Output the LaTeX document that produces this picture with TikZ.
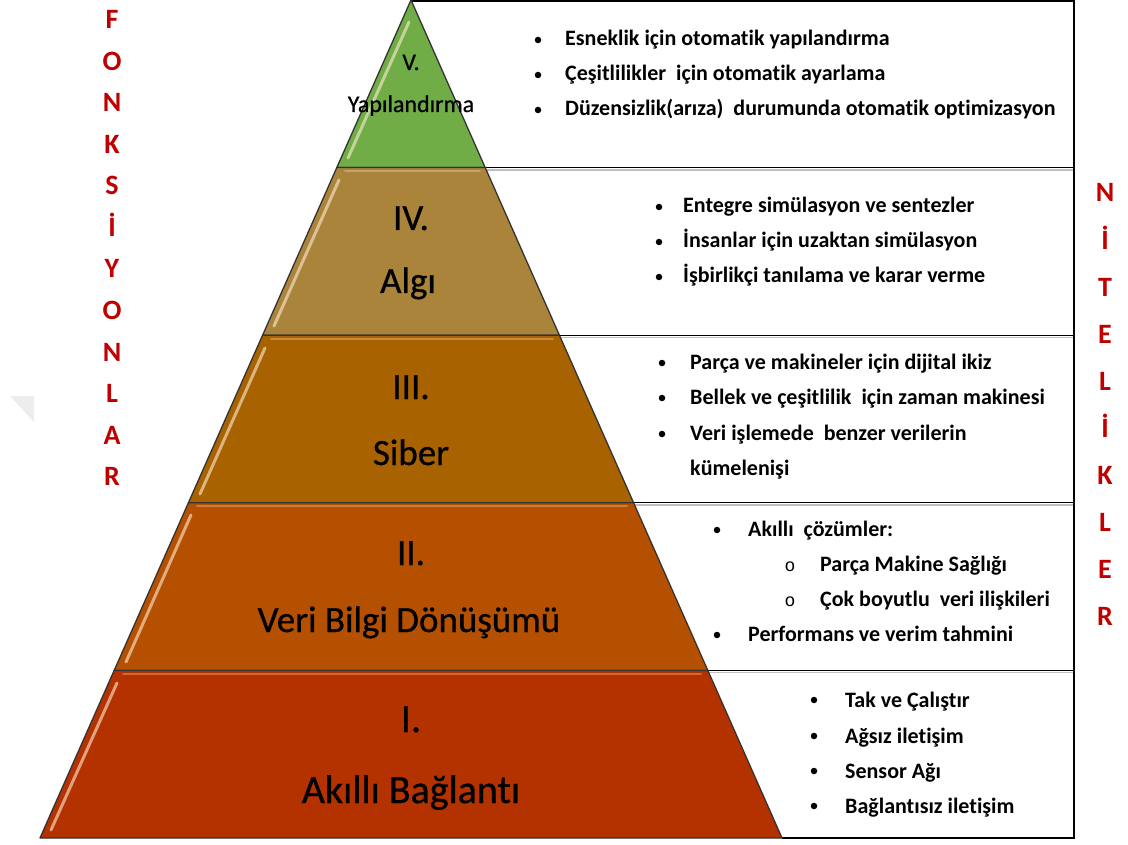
\documentclass[tikz,border=0pt]{standalone}
\usepackage{fontspec}
\setmainfont{Carlito}[Ligatures=NoCommon]
\newfontfamily\lblfont{Carlito}[Ligatures=NoCommon, FakeBold=0.7]
\newfontfamily\circfont{Liberation Mono}
\definecolor{tierV}{RGB}{112,173,71}
\definecolor{tierIV}{RGB}{170,132,58}
\definecolor{tierIII}{RGB}{168,98,0}
\definecolor{tierII}{RGB}{180,80,0}
\definecolor{tierI}{RGB}{180,50,0}
\definecolor{sidered}{RGB}{192,0,0}
\definecolor{glow}{RGB}{255,235,210}
\begin{document}
\begin{tikzpicture}[x=1pt,y=-1pt,
  tierlbl/.style={font=\lblfont\fontsize{37}{39}\selectfont, anchor=base, text=black, inner sep=0},
  biglbl/.style={font=\lblfont\fontsize{40}{42}\selectfont, anchor=base, text=black, inner sep=0},
  toplbl/.style={font=\lblfont\fontsize{24}{26}\selectfont, anchor=base, text=black, inner sep=0},
  itemtxt/.style={font=\bfseries\fontsize{22}{24}\selectfont, anchor=base west, inner sep=0},
  bul/.style={circle, fill=black, minimum size=6.5pt, inner sep=0},
  subbul/.style={font=\circfont\fontsize{18}{20}\selectfont, anchor=base, inner sep=0},
  sidelbl/.style={font=\bfseries\fontsize{28}{30}\selectfont, text=sidered, anchor=base, inner sep=0},
  tierline/.style={draw=black!80, line width=1.3pt, line join=round},
  boxline/.style={draw=black, line width=1.2pt},
  boxshadow/.style={draw=black!25, line width=1.2pt},
  hilite/.style={draw=glow, line width=3pt, opacity=0.6, line cap=round},
  tophilite/.style={draw=glow, line width=2pt, opacity=0.3, line cap=round}
]
\useasboundingbox (0,0) rectangle (1128,845);
\fill[white] (0,0) rectangle (1128,845);

% faint grey artefact at left
\fill[black!7] (10,396) -- (34,396) -- (34,422) -- cycle;

% boxes on the right
\draw[boxshadow] (487,170) -- (1074,170);
\draw[boxshadow] (561,337.5) -- (1074,337.5);
\draw[boxshadow] (635,505) -- (1074,505);
\draw[boxshadow] (709,672.5) -- (1074,672.5);
\draw[boxline] (411,1) -- (1074,1) -- (1074,838) -- (782,838);
\draw[boxline] (485.2,167.6) -- (1074,167.6);
\draw[boxline] (559.4,335.2) -- (1074,335.2);
\draw[boxline] (633.6,502.8) -- (1074,502.8);
\draw[boxline] (707.8,670.4) -- (1074,670.4);

% pyramid tiers
\path[tierline, fill=tierV] (411,0) -- (485.2,167.6) -- (336.8,167.6) -- cycle;
\path[tierline, fill=tierIV] (336.8,167.6) -- (485.2,167.6) -- (559.4,335.2) -- (262.6,335.2) -- cycle;
\path[tierline, fill=tierIII] (262.6,335.2) -- (559.4,335.2) -- (633.6,502.8) -- (188.4,502.8) -- cycle;
\path[tierline, fill=tierII] (188.4,502.8) -- (633.6,502.8) -- (707.8,670.4) -- (114.2,670.4) -- cycle;
\path[tierline, fill=tierI] (114.2,670.4) -- (707.8,670.4) -- (782,838) -- (40,838) -- cycle;

% bevel highlights
\draw[hilite] (409,22) -- (348,158);
\draw[hilite] (339,180) -- (274,326);
\draw[hilite] (265,348) -- (200,494);
\draw[hilite] (191,515) -- (126,662);
\draw[hilite] (117,683) -- (51,830);
\draw[tophilite] (345,171) -- (480,171);
\draw[tophilite] (271,338.6) -- (553,338.6);
\draw[tophilite] (197,506.2) -- (627,506.2);
\draw[tophilite] (123,673.8) -- (701,673.8);

% tier labels
\node[toplbl] (l5a) at (411,70) {V.};
\node[toplbl] (l5b) at (411,112) {Yapılandırma};
\node[tierlbl] (l4a) at (411,230) {IV.};
\node[tierlbl] (l4b) at (408,293) {Algı};
\node[tierlbl] (l3a) at (411,399) {III.};
\node[tierlbl] (l3b) at (411,465) {Siber};
\node[tierlbl] (l2a) at (411,565) {II.};
\node[tierlbl] (l2b) at (409,632) {Veri Bilgi Dönüşümü};
\node[biglbl] (l1a) at (411,732) {I.};
\node[biglbl] (l1b) at (411,803) {Akıllı Bağlantı};

% box V
\node[bul] (b51) at (538,40) {};
\node[itemtxt] (t51) at (565,46) {Esneklik için otomatik yapılandırma};
\node[bul] (b52) at (538,75) {};
\node[itemtxt] (t52) at (565,81) {Çeşitlilikler\ \ için otomatik ayarlama};
\node[bul] (b53) at (538,110) {};
\node[itemtxt] (t53) at (565,116) {Düzensizlik(arıza)\ \ durumunda otomatik optimizasyon};

% box IV
\node[bul] (b41) at (659,207) {};
\node[itemtxt] (t41) at (683,213) {Entegre simülasyon ve sentezler};
\node[bul] (b42) at (659,242) {};
\node[itemtxt] (t42) at (683,248) {İnsanlar için uzaktan simülasyon};
\node[bul] (b43) at (659,277) {};
\node[itemtxt] (t43) at (683,283) {İşbirlikçi tanılama ve karar verme};

% box III
\node[bul] (b31) at (662,363) {};
\node[itemtxt] (t31) at (690,369) {Parça ve makineler için dijital ikiz};
\node[bul] (b32) at (662,398) {};
\node[itemtxt] (t32) at (690,404) {Bellek ve çeşitlilik\ \ için zaman makinesi};
\node[bul] (b33) at (662,434) {};
\node[itemtxt] (t33) at (690,440) {Veri işlemede\ \ benzer verilerin};
\node[itemtxt] (t34) at (690,475) {kümelenişi};

% box II
\node[bul] (b21) at (717,530) {};
\node[itemtxt] (t21) at (748,536) {Akıllı\ \ çözümler:};
\node[subbul] (s21) at (790,571) {o};
\node[itemtxt] (t22) at (820,571) {Parça Makine Sağlığı};
\node[subbul] (s22) at (790,606) {o};
\node[itemtxt] (t23) at (820,606) {Çok boyutlu\ \ veri ilişkileri};
\node[bul] (b22) at (717,635) {};
\node[itemtxt] (t24) at (748,641) {Performans ve verim tahmini};

% box I
\node[bul] (b11) at (814,700) {};
\node[itemtxt] (t11) at (845,707) {Tak ve Çalıştır};
\node[bul] (b12) at (814,736) {};
\node[itemtxt] (t12) at (845,743) {Ağsız iletişim};
\node[bul] (b13) at (814,771) {};
\node[itemtxt] (t13) at (845,778) {Sensor Ağı};
\node[bul] (b14) at (814,806) {};
\node[itemtxt] (t14) at (845,813) {Bağlantısız iletişim};

% side labels
\foreach \ch [count=\i from 0] in {F,O,N,K,S,İ,Y,O,N,L,A,R}
  \node[sidelbl] (f\i) at (112,{29+41.5*\i}) {\ch};
\foreach \ch [count=\i from 0] in {N,İ,T,E,L,İ,K,L,E,R}
  \node[sidelbl] (n\i) at (1105,{202+47.1*\i}) {\ch};
\end{tikzpicture}
\end{document}
